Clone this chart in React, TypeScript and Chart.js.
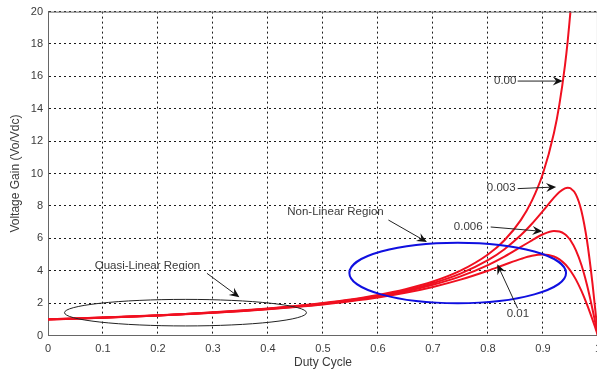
import React, { useEffect, useRef } from "react";
import { Chart, registerables } from "chart.js";

Chart.register(...registerables);

// Duty cycle samples (x axis)
const dutyIdeal = [0, 0.05, 0.1, 0.15, 0.2, 0.25, 0.3, 0.35, 0.4, 0.45, 0.5, 0.55, 0.6, 0.65, 0.7, 0.75, 0.8, 0.83, 0.86, 0.88, 0.9, 0.92, 0.93, 0.94, 0.945, 0.95];
const dutyLossy = [0, 0.05, 0.1, 0.15, 0.2, 0.25, 0.3, 0.35, 0.4, 0.45, 0.5, 0.55, 0.6, 0.65, 0.7, 0.75, 0.8, 0.83, 0.86, 0.88, 0.9, 0.92, 0.93, 0.94, 0.945, 0.95, 0.96, 0.97, 0.98, 0.99, 1];

// Voltage gain curves
const gain000 = [1.0, 1.05, 1.11, 1.18, 1.25, 1.33, 1.43, 1.54, 1.67, 1.82, 2.0, 2.22, 2.5, 2.86, 3.33, 4.0, 5.0, 5.88, 7.14, 8.33, 10.0, 12.5, 14.29, 16.67, 18.18, 20.0];
const gain003 = [1.0, 1.05, 1.11, 1.17, 1.24, 1.33, 1.42, 1.53, 1.65, 1.8, 1.98, 2.19, 2.45, 2.79, 3.23, 3.82, 4.65, 5.33, 6.2, 6.9, 7.69, 8.51, 8.86, 9.09, 9.13, 9.09, 8.7, 7.69, 5.88, 3.23, 0];
const gain006 = [0.99, 1.05, 1.1, 1.17, 1.24, 1.32, 1.41, 1.52, 1.64, 1.78, 1.95, 2.16, 2.41, 2.72, 3.13, 3.65, 4.35, 4.87, 5.47, 5.88, 6.25, 6.45, 6.42, 6.25, 6.09, 5.88, 5.26, 4.35, 3.13, 1.64, 0];
const gain010 = [0.99, 1.04, 1.1, 1.16, 1.23, 1.31, 1.4, 1.5, 1.62, 1.76, 1.92, 2.12, 2.35, 2.64, 3.0, 3.45, 4.0, 4.37, 4.73, 4.92, 5.0, 4.88, 4.7, 4.41, 4.22, 4.0, 3.45, 2.75, 1.92, 0.99, 0];

const xTicks = [0, 0.1, 0.2, 0.3, 0.4, 0.5, 0.6, 0.7, 0.8, 0.9, 1];
const yTicks = [0, 2, 4, 6, 8, 10, 12, 14, 16, 18, 20];

// Annotations (data units)
const ellipseNotes = [
  { cx: 0.25, cy: 1.41, rx: 0.22, ry: 0.82, color: "#222222", width: 1 },
  { cx: 0.745, cy: 3.86, rx: 0.197, ry: 1.87, color: "#1010e0", width: 2 },
];
const textNotes = [
  { text: "Quasi-Linear Region", x: 0.085, y: 4.29 },
  { text: "Non-Linear Region", x: 0.435, y: 7.62 },
  { text: "0.00", x: 0.811, y: 15.71 },
  { text: "0.003", x: 0.798, y: 9.09 },
  { text: "0.006", x: 0.738, y: 6.72 },
  { text: "0.01", x: 0.834, y: 1.33 },
];
const arrowNotes = [
  { x1: 0.289, y1: 3.84, x2: 0.348, y2: 2.36 },
  { x1: 0.619, y1: 7.13, x2: 0.689, y2: 5.77 },
  { x1: 0.854, y1: 15.71, x2: 0.936, y2: 15.71 },
  { x1: 0.854, y1: 9.07, x2: 0.924, y2: 9.17 },
  { x1: 0.805, y1: 6.7, x2: 0.899, y2: 6.43 },
  { x1: 0.854, y1: 1.68, x2: 0.817, y2: 4.4 },
];

const FONT = "'Liberation Sans', Arial, sans-serif";
const TEXT = "#3a3a3a";

const annotPlugin = {
  id: "annot",
  afterDatasetsDraw(chart: any) {
    const { ctx, scales, chartArea } = chart;
    const xs = scales.x;
    const ys = scales.y;
    ctx.save();
    // frame top & right
    ctx.strokeStyle = "#666666";
    ctx.lineWidth = 1;
    ctx.beginPath();
    ctx.moveTo(chartArea.left, chartArea.top + 0.5);
    ctx.lineTo(chartArea.right, chartArea.top + 0.5);
    ctx.moveTo(chartArea.right - 0.5, chartArea.top);
    ctx.lineTo(chartArea.right - 0.5, chartArea.bottom);
    ctx.stroke();

    ellipseNotes.forEach((e) => {
      const cx = xs.getPixelForValue(e.cx);
      const cy = ys.getPixelForValue(e.cy);
      const rx = Math.abs(xs.getPixelForValue(e.cx + e.rx) - cx);
      const ry = Math.abs(ys.getPixelForValue(e.cy + e.ry) - cy);
      ctx.beginPath();
      ctx.ellipse(cx, cy, rx, ry, 0, 0, Math.PI * 2);
      ctx.strokeStyle = e.color;
      ctx.lineWidth = e.width;
      ctx.stroke();
    });

    ctx.fillStyle = TEXT;
    ctx.font = `11.5px ${FONT}`;
    ctx.textAlign = "left";
    ctx.textBaseline = "middle";
    textNotes.forEach((t) => {
      ctx.fillText(t.text, xs.getPixelForValue(t.x), ys.getPixelForValue(t.y));
    });

    arrowNotes.forEach((a) => {
      const x1 = xs.getPixelForValue(a.x1);
      const y1 = ys.getPixelForValue(a.y1);
      const x2 = xs.getPixelForValue(a.x2);
      const y2 = ys.getPixelForValue(a.y2);
      const ang = Math.atan2(y2 - y1, x2 - x1);
      const L = 10;
      const W = 4.5;
      const back = 6.5;
      ctx.strokeStyle = "#222222";
      ctx.fillStyle = "#111111";
      ctx.lineWidth = 1;
      ctx.beginPath();
      ctx.moveTo(x1, y1);
      ctx.lineTo(x2 - Math.cos(ang) * back, y2 - Math.sin(ang) * back);
      ctx.stroke();
      const c = Math.cos(ang);
      const s = Math.sin(ang);
      const pt = (along: number, perp: number) => [x2 + c * along - s * perp, y2 + s * along + c * perp];
      const p1 = pt(-L, W);
      const p2 = pt(-back, 0);
      const p3 = pt(-L, -W);
      ctx.beginPath();
      ctx.moveTo(x2, y2);
      ctx.lineTo(p1[0], p1[1]);
      ctx.lineTo(p2[0], p2[1]);
      ctx.lineTo(p3[0], p3[1]);
      ctx.closePath();
      ctx.fill();
    });
    ctx.restore();
  },
};

export default function App() {
  const ref = useRef<HTMLCanvasElement | null>(null);
  useEffect(() => {
    document.body.style.margin = "0";
    const canvas = ref.current;
    if (!canvas) return;
    const red = "#f01020";
    const mk = (xsArr: number[], ysArr: number[]) => xsArr.map((x, i) => ({ x, y: ysArr[i] }));
    const ds = (label: string, data: any) => ({
      label,
      data,
      borderColor: red,
      backgroundColor: red,
      borderWidth: 2,
      pointRadius: 0,
      cubicInterpolationMode: "monotone" as const,
      fill: false,
    });
    const gridCommon = {
      color: "#1a1a1a",
      lineWidth: 1,
      drawTicks: false,
    };
    const chart = new Chart(canvas, {
      type: "line",
      data: {
        datasets: [
          ds("0.00", mk(dutyIdeal, gain000)),
          ds("0.003", mk(dutyLossy, gain003)),
          ds("0.006", mk(dutyLossy, gain006)),
          ds("0.01", mk(dutyLossy, gain010)),
        ],
      },
      options: {
        animation: false,
        responsive: false,
        devicePixelRatio: 1,
        layout: { padding: { top: 11, left: 0, right: 0, bottom: 0 } },
        plugins: { legend: { display: false }, tooltip: { enabled: false } },
        scales: {
          x: {
            type: "linear",
            min: 0,
            max: 1,
            afterBuildTicks: (scale: any) => {
              scale.ticks = xTicks.map((v) => ({ value: v }));
            },
            afterFit: (scale: any) => {
              scale.height = 34.5;
            },
            ticks: {
              color: TEXT,
              font: { family: FONT, size: 11 },
              padding: 7,
              maxRotation: 0,
              autoSkip: false,
              callback: (v: any) => String(Math.round(Number(v) * 10) / 10),
            },
            grid: { ...gridCommon, borderDash: [2, 3] } as any,
            border: { display: true, color: "#666666", width: 1, dash: [2, 3] } as any,
            title: {
              display: true,
              text: "Duty Cycle",
              color: TEXT,
              font: { family: FONT, size: 12 },
              padding: { top: 0, bottom: 0 },
            },
          },
          y: {
            type: "linear",
            min: 0,
            max: 20,
            afterBuildTicks: (scale: any) => {
              scale.ticks = yTicks.map((v) => ({ value: v }));
            },
            afterFit: (scale: any) => {
              scale.width = 48;
            },
            ticks: {
              color: TEXT,
              font: { family: FONT, size: 11 },
              padding: 5,
              autoSkip: false,
            },
            grid: gridCommon as any,
            border: { display: true, color: "#666666", width: 1, dash: [2, 3] } as any,
            title: {
              display: true,
              text: "Voltage Gain (Vo/Vdc)",
              color: TEXT,
              font: { family: FONT, size: 12 },
              padding: { top: 8.5, bottom: 0 },
            },
          },
        },
      },
      plugins: [annotPlugin],
    });
    return () => chart.destroy();
  }, []);
  return (
    <div style={{ width: 597, height: 370, overflow: "hidden", background: "#fff" }}>
      <canvas ref={ref} width={608} height={370} style={{ display: "block" }} />
    </div>
  );
}
